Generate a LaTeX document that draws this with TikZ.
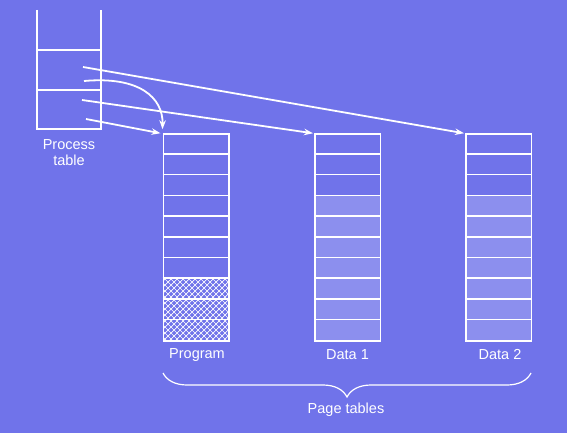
\documentclass[tikz,border=0pt]{standalone}
\usepackage{fontspec}
\setmainfont{Liberation Sans}
\usetikzlibrary{arrows.meta,decorations.pathreplacing}
\definecolor{bg}{RGB}{112,115,234}
\tikzset{
  tbl/.style={draw=white,line width=1.5pt,minimum width=65.5pt,minimum height=207pt,inner sep=0pt},
  gridln/.style={draw=white,line width=1.5pt},
  conn/.style={draw=white,line width=1.8pt,-{Stealth[length=9pt,width=6.5pt]}},
  lbl/.style={text=white,font=\fontsize{14.5}{16}\selectfont,inner sep=0pt},
}
\begin{document}
\begin{tikzpicture}[x=1pt,y=-1pt]
\fill[bg] (0,0) rectangle (567,433);
\useasboundingbox (0,0) rectangle (567,433);
% fills
\fill[white,fill opacity=0.2] (314.75,196.1) rectangle (380.25,341);
\fill[white,fill opacity=0.2] (465.75,196.1) rectangle (531.25,341);
\begin{scope}
\clip (163.25,278.9) rectangle (228.75,341);
\foreach \k in {-14,...,24} {
  \draw[white,line width=0.7pt] (150+\k*6,270) -- ++(80,80);
  \draw[white,line width=0.7pt] (150+\k*6,270) -- ++(-80,80);
}
\end{scope}
% page tables
\node[tbl] (prog) at (196,237.5) {};
\node[tbl] (d1) at (347.5,237.5) {};
\node[tbl] (d2) at (498.5,237.5) {};
\foreach \nm in {prog,d1,d2} {
  \foreach \i in {1,...,9} {
    \draw[gridln] ([yshift=-\i*20.7pt]\nm.north west) -- ([yshift=-\i*20.7pt]\nm.north east);
  }
}
% process table
\draw[gridln] (37,10) -- (37,129) -- (101,129) -- (101,10);
\draw[gridln] (37,50) -- (101,50);
\draw[gridln] (37,90) -- (101,90);
\node[lbl,align=center] (ptl) at (69,153) {Process\\table};
% connectors
\coordinate (a1) at (83,67);
\coordinate (a2) at (84,81);
\coordinate (a3) at (82,100);
\coordinate (a4) at (86,119);
\draw[conn] (a1) -- ([xshift=-1pt]d2.north west);
\draw[conn] (a2) .. controls (140,76) and (163,98) .. ([yshift=4pt]prog.north west);
\draw[conn] (a3) -- ([xshift=-1pt]d1.north west);
\draw[conn] (a4) -- ([xshift=-2pt]prog.north west);
% labels
\node[lbl] (lp) at (197,355) {Program};
\node[lbl] (l1) at (347.5,355) {Data 1};
\node[lbl] (l2) at (500,355) {Data 2};
\draw[white,line width=1.2pt,decorate,decoration={brace,amplitude=24pt}] (531,373) -- (163,373);
\node[lbl] (pt) at (346,410) {Page tables};
\end{tikzpicture}
\end{document}
